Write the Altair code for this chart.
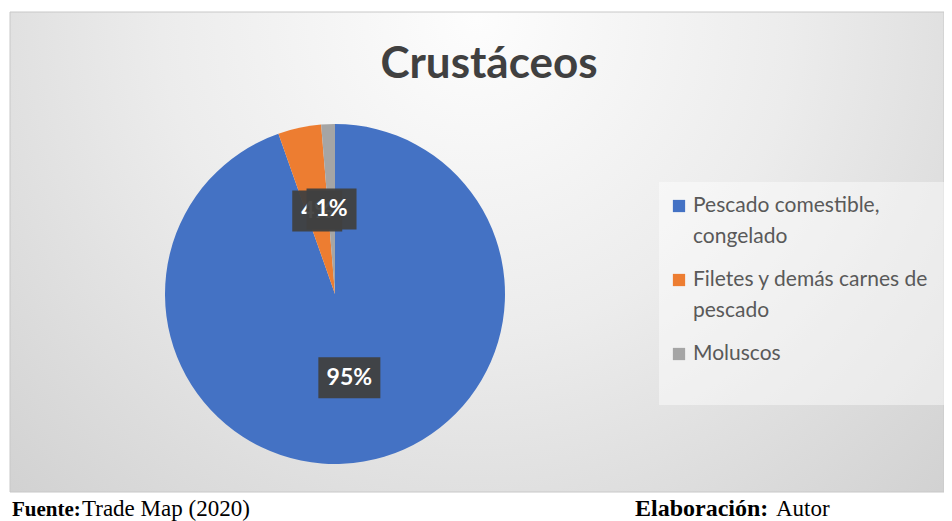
import altair as alt
import pandas as pd

categories = ["Pescado comestible, congelado", "Filetes y demás carnes de pescado", "Moluscos"]
legend_lines = ["Pescado comestible,\ncongelado", "Filetes y demás carnes de\npescado", "Moluscos"]
values = [94.6, 4.1, 1.3]
colors = ["#4472C4", "#ED7D31", "#A5A5A5"]
title_text = "Crustáceos"
footer_left = ("Fuente:", "Trade Map (2020)")
footer_right = ("Elaboración:", "Autor")

W, H = 936, 513
CX, CY, R = 327, 286, 170
LR = 85

df = pd.DataFrame({"cat": categories, "value": values, "order": list(range(len(values))),
                   "leg": legend_lines})

color_scale = alt.Scale(domain=categories, range=colors)

bg_df = pd.DataFrame({"x": [2], "x2": [W], "y": [4], "y2": [484]})
bg = alt.Chart(bg_df).mark_rect(
    fill=alt.Gradient(gradient="radial", x1=0.5, y1=0.25, r1=0.0, x2=0.5, y2=0.25, r2=0.75,
                      stops=[alt.GradientStop(color="#fdfdfd", offset=0),
                             alt.GradientStop(color="#ececec", offset=0.45),
                             alt.GradientStop(color="#cfcfcf", offset=1)]),
    stroke="#c8c8c8", strokeWidth=1
).encode(x=alt.X("x:Q", scale=None, axis=None), x2="x2:Q",
         y=alt.Y("y:Q", scale=None, axis=None), y2="y2:Q")

leg_bg_df = pd.DataFrame({"x": [651], "x2": [W], "y": [174], "y2": [397]})
leg_bg = alt.Chart(leg_bg_df).mark_rect(fill="#ffffff", opacity=0.45).encode(
    x=alt.X("x:Q", scale=None, axis=None), x2="x2:Q",
    y=alt.Y("y:Q", scale=None, axis=None), y2="y2:Q")

title = alt.Chart(pd.DataFrame({"t": [title_text]})).mark_text(
    font="Lato", fontWeight="bold", fontSize=44, color="#404040", align="center", baseline="middle"
).encode(text="t:N", x=alt.value(481), y=alt.value(57))

pie = alt.Chart(df).mark_arc(radius=R).encode(
    theta=alt.Theta("value:Q", stack=True),
    color=alt.Color("cat:N", scale=color_scale, legend=None),
    order=alt.Order("order:Q"),
    x=alt.value(CX), y=alt.value(CY))

pos = alt.Chart(df).transform_joinaggregate(total="sum(value)").transform_window(
    cum="sum(value)", sort=[alt.SortField("order")], frame=[None, 0]
).transform_calculate(
    mid="(datum.cum - datum.value/2)/datum.total*2*PI",
    lx=f"{CX} + {LR}*sin(datum.mid)",
    ly=f"{CY} - {LR}*cos(datum.mid)",
    label="format(datum.value/datum.total, '.0%')",
    bw="26 + 12*length(datum.label)",
    bx1="datum.lx - datum.bw/2", bx2="datum.lx + datum.bw/2",
    by1="datum.ly - 20.5", by2="datum.ly + 20.5",
)

label_layers = []
for c in [categories[1], categories[2], categories[0]]:
    p = pos.transform_filter(alt.datum.cat == c)
    box = p.mark_rect(fill="#404040", opacity=0.95).encode(
        x=alt.X("bx1:Q", scale=None, axis=None), x2="bx2:Q",
        y=alt.Y("by1:Q", scale=None, axis=None), y2="by2:Q")
    txt = p.mark_text(font="Lato", fontWeight="bold", fontSize=23, color="white",
                      align="center", baseline="middle").encode(
        x=alt.X("lx:Q", scale=None, axis=None), y=alt.Y("ly:Q", scale=None, axis=None),
        text="label:N")
    label_layers += [box, txt]

leg = alt.Chart(df).transform_calculate(
    sy="198 + datum.order*74", ty="187 + datum.order*74")
leg_sq = leg.mark_square(size=150, opacity=1).encode(
    x=alt.value(671), y=alt.Y("sy:Q", scale=None, axis=None),
    color=alt.Color("cat:N", scale=color_scale, legend=None))
leg_txt = leg.mark_text(font="Lato", fontSize=21, color="#595959", align="left", baseline="top",
                        lineBreak="\n", lineHeight=31).encode(
    x=alt.value(685), y=alt.Y("ty:Q", scale=None, axis=None), text="leg:N")

def foot(text, x, size, bold):
    return alt.Chart(pd.DataFrame({"t": [text]})).mark_text(
        font="Liberation Serif", fontWeight="bold" if bold else "normal", fontSize=size,
        color="black", align="left", baseline="alphabetic"
    ).encode(x=alt.value(x), y=alt.value(508), text="t:N")

foot_layers = [foot(footer_left[0], 4, 21, True), foot(footer_left[1], 74, 23, False),
               foot(footer_right[0], 627, 24, True), foot(footer_right[1], 768, 23, False)]

chart = alt.layer(bg, leg_bg, title, pie, *label_layers, leg_sq, leg_txt, *foot_layers).properties(
    width=W, height=H, padding=0, autosize=alt.AutoSizeParams(type="none"), background="white"
).configure_view(stroke=None)

chart.save("out.html", embed_options={"renderer": "svg", "actions": False})
